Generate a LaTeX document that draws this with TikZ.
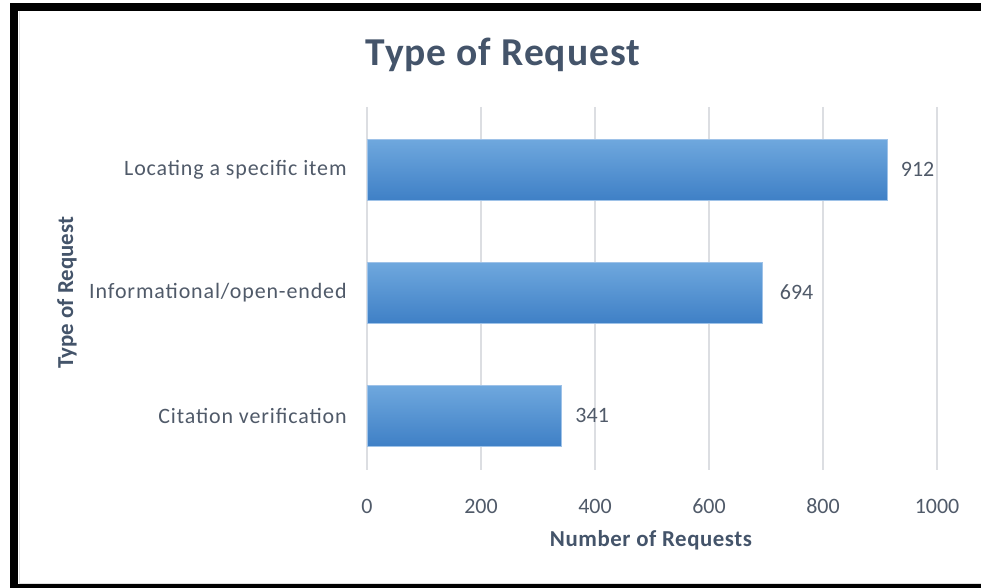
\documentclass[tikz,border=0pt]{standalone}
\usepackage{fontspec}
\setmainfont{Carlito}
\newfontfamily\chartfont[LetterSpace=4]{Carlito}
\newfontfamily\titlefont[LetterSpace=2.5]{Carlito}
\usepackage{xcolor}
\usetikzlibrary{calc, positioning}
\definecolor{titlecol}{HTML}{44546A}
\definecolor{labelcol}{HTML}{505A69}
\definecolor{gridcol}{HTML}{DCDEE2}
\definecolor{bartop}{HTML}{6FA8DE}
\definecolor{barbot}{HTML}{3F80C6}
\definecolor{baredge}{HTML}{9EC2E8}

\begin{document}
\begin{tikzpicture}[x=0.02cm, y=-0.02cm, line width=0.5pt,
		node distance=1cm,
		bar/.style={top color=bartop, bottom color=barbot, draw=baredge,
			line width=0.4pt, inner sep=0pt, minimum height=1.22cm, anchor=west},
		catlabel/.style={text=labelcol, font=\chartfont\fontsize{12.5}{15}\selectfont},
		valuelabel/.style={text=labelcol, font=\fontsize{12.5}{15}\selectfont},
		ticklabel/.style={text=labelcol, font=\fontsize{12.5}{15}\selectfont},
		axistitle/.style={text=titlecol, font=\titlefont\bfseries\fontsize{13}{16}\selectfont},
		gridline/.style={draw=gridcol, line width=0.04cm}]
	\useasboundingbox (0,0) rectangle (981,588);
	\clip (0,0) rectangle (981,588);

	% frame
	\draw[line width=0.16cm] (1000,588) -- (14,588) -- (14,7.5) -- (1000,7.5);
	\draw[gray!25, line width=0.02cm] (19,11) -- (19,583.5) -- (981,583.5);

	% grid and ticks
	\foreach \v in {0,200,...,1000} {
		\draw[gridline] ({367+0.57*\v},107) -- ({367+0.57*\v},470);
		\node[ticklabel] (tick\v) at ({367+0.57*\v},506) {\v};
	}

	% bars
	\node[bar, minimum width=10.40cm] (locate) at (367,169.5) {};
	\node[bar, minimum width=7.91cm] (inform) at (367,292.5) {};
	\node[bar, minimum width=3.89cm] (cite) at (367,415.5) {};

	\node[valuelabel, right=4pt of locate] (vlocate) {912};
	\node[valuelabel, right=6pt of inform] (vinform) {694};
	\node[valuelabel, right=4pt of cite] (vcite) {341};

	\node[catlabel, left=8pt of locate] (clocate) {Locating a specific item};
	\node[catlabel, left=8pt of inform] (cinform) {Informational/open-ended};
	\node[catlabel, left=8pt of cite] (ccite) {Citation verification};

	% titles
	\node[text=titlecol, font=\titlefont\bfseries\fontsize{22.5}{27}\selectfont] (title) at (503,55) {Type of Request};
	\node[axistitle] (xtitle) at (651,540) {Number of Requests};
	\node[axistitle, font=\bfseries\fontsize{13}{16}\selectfont, rotate=90] (ytitle) at (67,293) {Type of Request};
\end{tikzpicture}
\end{document}
